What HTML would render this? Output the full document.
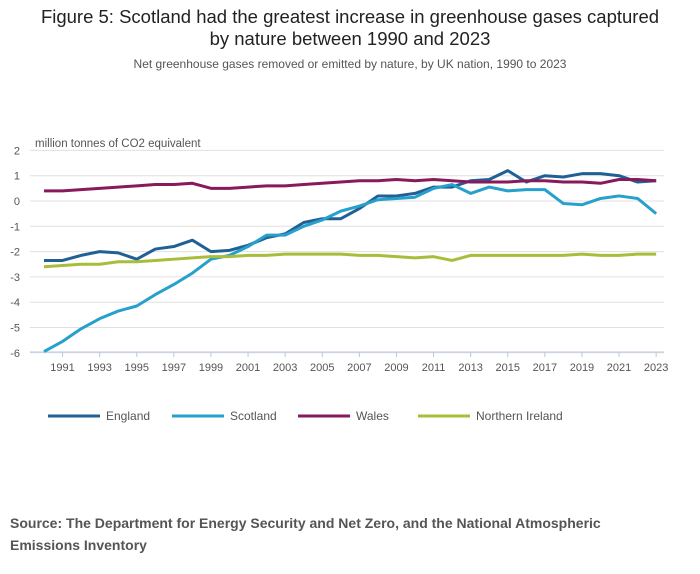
<!DOCTYPE html>
<html><head><meta charset="utf-8"><style>
body{margin:0;width:700px;height:574px;background:#fff;font-family:"Liberation Sans",sans-serif;position:relative;overflow:hidden}
#title{position:absolute;top:6px;left:0;width:700px;text-align:center;font-size:18.5px;line-height:22px;color:#222}
#sub{position:absolute;top:57px;left:0;width:700px;text-align:center;font-size:12px;color:#555}
#src{position:absolute;top:512px;left:10px;font-size:14px;font-weight:bold;color:#555;line-height:22px}
svg{position:absolute;left:0;top:0}
</style></head><body>
<div id="title">Figure 5: Scotland had the greatest increase in greenhouse gases captured<br>by nature between 1990 and 2023</div>
<div id="sub">Net greenhouse gases removed or emitted by nature, by UK nation, 1990 to 2023</div>
<svg id="chart" width="700" height="574"></svg>
<div id="src">Source: The Department for Energy Security and Net Zero, and the National Atmospheric<br>Emissions Inventory</div>
<script>
const years=[];for(let y=1990;y<=2023;y++)years.push(y);
const england=[-2.35,-2.35,-2.15,-2.0,-2.05,-2.3,-1.9,-1.8,-1.55,-2.0,-1.95,-1.75,-1.45,-1.3,-0.85,-0.7,-0.7,-0.3,0.2,0.2,0.3,0.55,0.55,0.8,0.85,1.2,0.75,1.0,0.95,1.08,1.08,1.0,0.75,0.8];
const scotland=[-5.95,-5.55,-5.05,-4.65,-4.35,-4.15,-3.7,-3.3,-2.85,-2.3,-2.15,-1.8,-1.35,-1.35,-1.0,-0.75,-0.4,-0.2,0.05,0.1,0.15,0.5,0.65,0.3,0.55,0.4,0.45,0.45,-0.1,-0.15,0.1,0.2,0.1,-0.5];
const wales=[0.4,0.4,0.45,0.5,0.55,0.6,0.65,0.65,0.7,0.5,0.5,0.55,0.6,0.6,0.65,0.7,0.75,0.8,0.8,0.85,0.8,0.85,0.8,0.75,0.75,0.75,0.8,0.8,0.75,0.75,0.7,0.85,0.85,0.8];
const ni=[-2.6,-2.55,-2.5,-2.5,-2.4,-2.4,-2.35,-2.3,-2.25,-2.2,-2.2,-2.15,-2.15,-2.1,-2.1,-2.1,-2.1,-2.15,-2.15,-2.2,-2.25,-2.2,-2.35,-2.15,-2.15,-2.15,-2.15,-2.15,-2.15,-2.1,-2.15,-2.15,-2.1,-2.1];
const yTicks=[2,1,0,-1,-2,-3,-4,-5,-6];
const seriesNames=["England","Scotland","Wales","Northern Ireland"];
const seriesColors=["#206095","#27a0cc","#871a5b","#a8bd3a"];
const seriesData=[england,scotland,wales,ni];
const svg=document.getElementById('chart');const NS='http://www.w3.org/2000/svg';
const X=y=>44+(y-1990)*18.55, Y=v=>201-v*25.3;
function mk(t,a){const e=document.createElementNS(NS,t);for(const k in a)e.setAttribute(k,a[k]);svg.appendChild(e);return e;}
let t=mk('text',{x:35,y:147,'font-size':11.5,fill:'#555'});t.textContent='million tonnes of CO2 equivalent';


yTicks.forEach(v=>{const l=mk('line',{x1:30,x2:664,y1:Y(v),y2:Y(v),stroke:'#e0e0e0'});


const tx=mk('text',{x:20,y:Y(v)+4,'font-size':11,fill:'#555','text-anchor':'end'});tx.textContent=v;

});
const ax=mk('line',{x1:30,x2:664,y1:352,y2:352,stroke:'#b8c8e0'});


years.forEach(y=>{if(y%2===1){mk('line',{x1:X(y),x2:X(y),y1:352,y2:357,stroke:'#b8c8e0'});
const tx=mk('text',{x:X(y),y:371,'font-size':11,fill:'#555','text-anchor':'middle'});tx.textContent=y;

}});
seriesData.forEach((d,i)=>{const p=mk('polyline',{points:d.map((v,j)=>X(years[j])+','+Y(v)).join(' '),fill:'none',stroke:seriesColors[i],'stroke-width':3,'stroke-linejoin':'round'});

});
const lx=[48,172,298,418];
seriesNames.forEach((n,i)=>{const g=mk('g',{});


const l=document.createElementNS(NS,'line');l.setAttribute('x1',lx[i]);l.setAttribute('x2',lx[i]+52);l.setAttribute('y1',416);l.setAttribute('y2',416);l.setAttribute('stroke',seriesColors[i]);l.setAttribute('stroke-width',3);g.appendChild(l);
const tx=document.createElementNS(NS,'text');tx.setAttribute('x',lx[i]+58);tx.setAttribute('y',420);tx.setAttribute('font-size',12);tx.setAttribute('fill','#555');tx.textContent=n;g.appendChild(tx);});
</script>
</body></html>
